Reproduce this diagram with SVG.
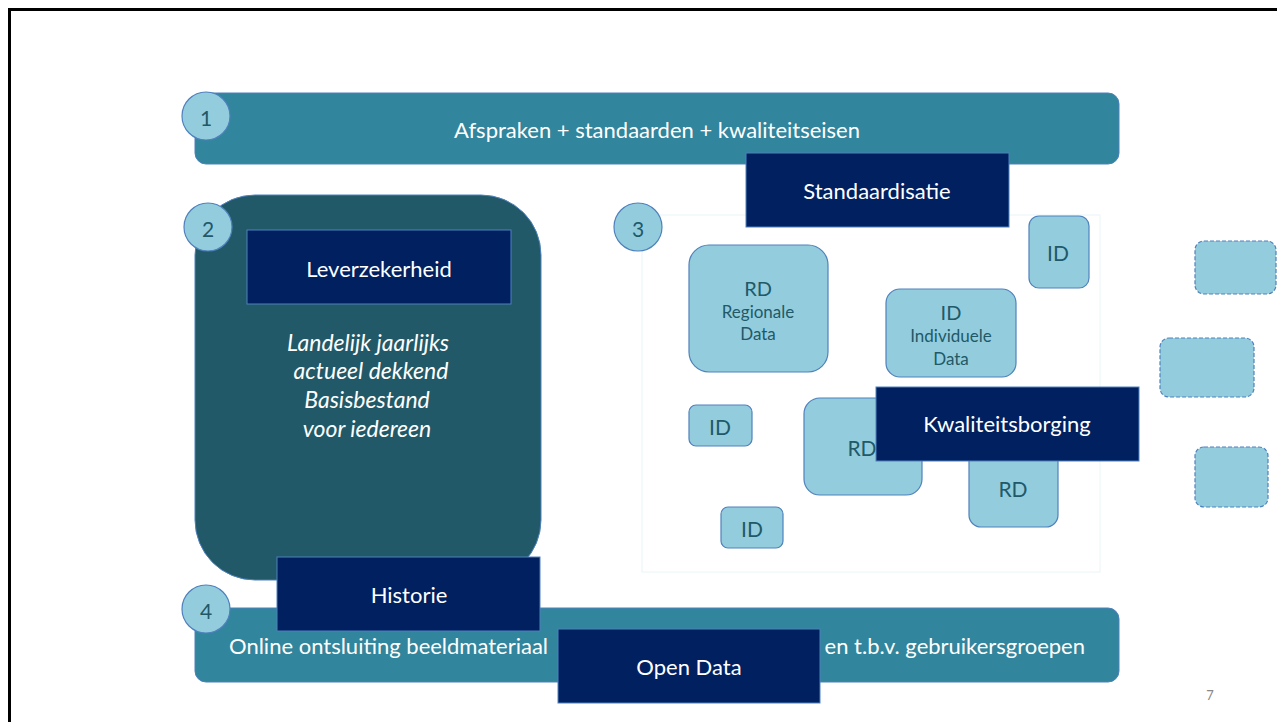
<svg xmlns="http://www.w3.org/2000/svg" width="1277" height="722" viewBox="0 0 1277 722">
<style>
.t{font-family:Lato,"Open Sans","Liberation Sans",sans-serif;dominant-baseline:central;text-anchor:middle}
.w{fill:#ffffff;font-size:22px}
.i{fill:#ffffff;font-size:23px;font-style:italic}
.d{fill:#215968}
.s{font-size:17px}
.bar{fill:#31859C;stroke:#4F81BD;stroke-width:1}
.navy{fill:#002060;stroke:#4F81BD;stroke-width:1}
.lb{fill:#93CDDD;stroke:#4F81BD;stroke-width:1.2}
.dash{fill:#93CDDD;stroke:#4F81BD;stroke-width:1.2;stroke-dasharray:4 2}
.num{fill:#93CDDD;stroke:#4F81BD;stroke-width:1.2}
</style>
<rect x="0" y="0" width="1277" height="722" fill="#ffffff"/>
<rect x="9.5" y="9.5" width="1300" height="760" fill="none" stroke="#000000" stroke-width="3"/>
<g id="connectors"></g>
<g id="region3"><rect x="642" y="215" width="458" height="357" fill="none" stroke="#EAF4F7" stroke-width="1"/></g>
<g id="bar1"><rect class="bar" x="195" y="93" width="924" height="71" rx="11"/><text class="t w" x="657" y="129">Afspraken + standaarden + kwaliteitseisen</text></g>
<g id="circle1"><circle class="num" cx="206" cy="116" r="24"/><text class="t d" x="206" y="117" font-size="21">1</text></g>
<g id="box2"><rect x="195" y="195" width="346" height="385" rx="60" fill="#215968" stroke="#4F81BD" stroke-width="1"/>
<text class="t i" x="368" y="342">Landelijk jaarlijks</text>
<text class="t i" x="371" y="370">actueel dekkend</text>
<text class="t i" x="367" y="399">Basisbestand</text>
<text class="t i" x="367" y="428">voor iedereen</text></g>
<g id="circle2"><circle class="num" cx="208" cy="227" r="24"/><text class="t d" x="208" y="228" font-size="21">2</text></g>
<g id="leverzekerheid"><rect class="navy" x="247" y="230" width="264" height="74"/><text class="t w" x="379" y="268">Leverzekerheid</text></g>
<g id="standaardisatie"><rect class="navy" x="746" y="153" width="263" height="74"/><text class="t w" x="877" y="190">Standaardisatie</text></g>
<g id="circle3"><circle class="num" cx="638" cy="227" r="24"/><text class="t d" x="638" y="228" font-size="21">3</text></g>
<g id="rd1"><rect class="lb" x="689" y="245" width="139" height="127" rx="20"/><text class="t d" x="758" y="288" font-size="20">RD</text><text class="t d s" x="758" y="311">Regionale</text><text class="t d s" x="758" y="333">Data</text></g>
<g id="id1"><rect class="lb" x="886" y="289" width="130" height="88" rx="14"/><text class="t d" x="951" y="312" font-size="20">ID</text><text class="t d s" x="951" y="335">Individuele</text><text class="t d s" x="951" y="358">Data</text></g>
<g id="id2"><rect class="lb" x="1029" y="216" width="60" height="72" rx="10"/><text class="t d" x="1058" y="252" font-size="21">ID</text></g>
<g id="id3"><rect class="lb" x="689" y="405" width="63" height="41" rx="7"/><text class="t d" x="720" y="426" font-size="21">ID</text></g>
<g id="rd2"><rect class="lb" x="804" y="398" width="118" height="97" rx="16"/><text class="t d" x="862" y="447" font-size="21">RD</text></g>
<g id="rd3"><rect class="lb" x="969" y="430" width="89" height="97" rx="12"/><text class="t d" x="1013" y="488" font-size="21">RD</text></g>
<g id="id4"><rect class="lb" x="721" y="507" width="62" height="41" rx="7"/><text class="t d" x="752" y="528" font-size="21">ID</text></g>
<g id="kwaliteitsborging"><rect class="navy" x="876" y="387" width="263" height="74"/><text class="t w" x="1007" y="423">Kwaliteitsborging</text></g>
<g id="dashed1"><rect class="dash" x="1195" y="241" width="81" height="53" rx="9"/></g>
<g id="dashed2"><rect class="dash" x="1160" y="338" width="94" height="59" rx="9"/></g>
<g id="dashed3"><rect class="dash" x="1195" y="447" width="73" height="60" rx="9"/></g>
<g id="bar4"><rect class="bar" x="195" y="608" width="924" height="74" rx="11"/><text class="t w" x="229" y="645" style="text-anchor:start">Online ontsluiting beeldmateriaal</text><text class="t w" x="1085" y="645" style="text-anchor:end">en t.b.v. gebruikersgroepen</text></g>
<g id="historie"><rect class="navy" x="277" y="557" width="263" height="74"/><text class="t w" x="409" y="594">Historie</text></g>
<g id="circle4"><circle class="num" cx="206" cy="609" r="24"/><text class="t d" x="206" y="610" font-size="21">4</text></g>
<g id="opendata"><rect class="navy" x="558" y="629" width="262" height="74"/><text class="t w" x="689" y="666">Open Data</text></g>
<text class="t" x="1210" y="695" fill="#888888" font-size="13">7</text>
</svg>
